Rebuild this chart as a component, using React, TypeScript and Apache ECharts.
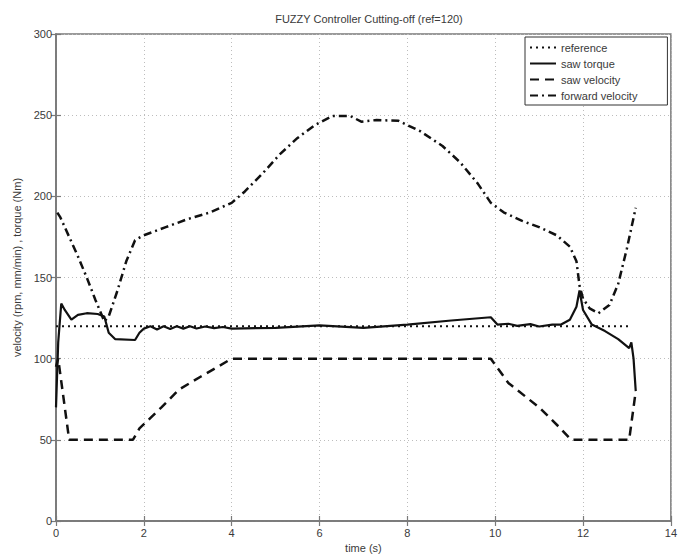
import React, { useEffect, useRef } from "react";
import * as echarts from "echarts";

const titleText = "FUZZY Controller Cutting-off (ref=120)";
const xTitle = "time (s)";
const yTitle = "velocity (rpm, mm/min) , torque (Nm)";
const seriesNames = ["reference", "saw torque", "saw velocity", "forward velocity"];

const referenceData: [number, number][] = [
  [0, 120],
  [13.1, 120],
];

const sawTorque: [number, number][] = [
  [0, 70], [0.05, 110], [0.12, 134], [0.2, 130], [0.35, 124], [0.5, 127],
  [0.7, 128], [0.95, 127.5], [1.1, 126], [1.2, 116], [1.35, 112], [1.8, 111.5],
  [1.9, 116], [2.0, 118.5], [2.15, 120], [2.3, 118], [2.45, 120], [2.6, 118.3],
  [2.75, 120], [2.9, 118.5], [3.05, 120], [3.2, 118.6], [3.4, 119.8], [3.6, 118.8],
  [3.8, 119.5], [4.0, 118.5], [5.0, 119], [6.0, 120.5], [7.0, 119], [8.0, 121],
  [9.0, 123.5], [9.9, 125.5], [10.05, 121], [10.3, 121.5], [10.5, 120.2],
  [10.8, 121.3], [11.0, 119.8], [11.3, 121], [11.5, 121], [11.7, 124],
  [11.85, 132], [11.92, 142], [12.0, 130], [12.2, 121], [12.5, 117], [12.8, 112],
  [13.05, 106.5], [13.1, 110], [13.15, 100], [13.2, 80],
];

const sawVelocity: [number, number][] = [
  [0, 95], [0.05, 100], [0.3, 50], [1.75, 50], [1.9, 57], [2.4, 70], [2.8, 81],
  [3.3, 89], [4.0, 100], [9.9, 100], [10.3, 85], [11.0, 70], [11.45, 58],
  [11.73, 50], [13.05, 50], [13.1, 60], [13.2, 80],
];

const forwardVelocity: [number, number][] = [
  [0.03, 190], [0.1, 187], [0.3, 175], [0.5, 163], [0.7, 150], [0.9, 136],
  [1.1, 123], [1.2, 126], [1.4, 142], [1.6, 160], [1.8, 173], [2.0, 176],
  [2.5, 181], [3.0, 186], [3.5, 190], [4.0, 196], [4.3, 203], [4.7, 214],
  [5.1, 226], [5.5, 236], [5.9, 244], [6.3, 249.5], [6.7, 249.5], [6.95, 246],
  [7.3, 247], [7.8, 246.5], [8.3, 240], [8.8, 231], [9.2, 221], [9.6, 208],
  [9.9, 196], [10.2, 190], [10.6, 185], [11.0, 181], [11.4, 176], [11.7, 169],
  [11.85, 160], [11.92, 145], [12.0, 137], [12.15, 131], [12.35, 128],
  [12.6, 133], [12.8, 146], [13.0, 168], [13.2, 193],
];

const FONT = "Liberation Sans, Arial, sans-serif";
const TXT = "#3a3a3a";

export default function App() {
  const ref = useRef<HTMLDivElement>(null);
  useEffect(() => {
    if (!ref.current) return;
    const chart = echarts.init(ref.current, null, { renderer: "svg" });
    const gridLine = { show: true, lineStyle: { color: "#bdbdbd", type: [1, 3] as any, width: 1 } };
    const axisLine = { show: true, lineStyle: { color: "#7a7a7a", width: 1.5 } };
    const tick = { show: true, inside: true, length: 5, lineStyle: { color: "#7a7a7a", width: 1.2 } };
    chart.setOption({
      animation: false,
      backgroundColor: "#fff",
      title: {
        text: titleText,
        left: 364,
        textAlign: "center",
        top: 8,
        textStyle: { fontFamily: FONT, fontSize: 11, fontWeight: "normal", color: TXT },
      },
      legend: {
        orient: "vertical",
        left: 525,
        top: 37,
        width: 142,
        padding: [5, 30, 4, 4],
        itemGap: 5,
        itemWidth: 26,
        itemHeight: 12,
        borderColor: "#333",
        borderWidth: 1,
        backgroundColor: "#fff",
        itemStyle: { opacity: 0 },
        data: seriesNames,
        textStyle: { fontFamily: FONT, fontSize: 11, color: TXT },
      },
      grid: { left: 56, right: 8, top: 34, bottom: 38, show: true, borderColor: "#7a7a7a", borderWidth: 1.5 },
      xAxis: [
        {
          type: "value", min: 0, max: 14, interval: 2,
          name: xTitle, nameLocation: "middle", nameGap: 20,
          nameTextStyle: { fontFamily: FONT, fontSize: 11, color: TXT },
          axisLine, axisTick: tick, splitLine: gridLine,
          axisLabel: { fontFamily: FONT, fontSize: 11, color: TXT, margin: 6 },
        },
        {
          type: "value", min: 0, max: 14, interval: 2, position: "top",
          axisLine, axisTick: tick, splitLine: { show: false }, axisLabel: { show: false },
        },
      ],
      yAxis: [
        {
          type: "value", min: 0, max: 300, interval: 50,
          name: yTitle, nameLocation: "middle", nameGap: 33,
          nameTextStyle: { fontFamily: FONT, fontSize: 11, color: TXT, padding: [0, 0, 0, 20] },
          axisLine, axisTick: tick, splitLine: gridLine,
          axisLabel: { fontFamily: FONT, fontSize: 11, color: TXT, margin: 4 },
        },
        {
          type: "value", min: 0, max: 300, interval: 50, position: "right",
          axisLine, axisTick: tick, splitLine: { show: false }, axisLabel: { show: false },
        },
      ],
      series: [
        {
          name: seriesNames[0], type: "line", data: referenceData, symbol: "none",
          lineStyle: { color: "#111", width: 2, type: [2, 4] as any },
          itemStyle: { color: "#111" },
        },
        {
          name: seriesNames[1], type: "line", data: sawTorque, symbol: "none",
          lineStyle: { color: "#111", width: 2.2, type: "solid" },
          itemStyle: { color: "#111" },
        },
        {
          name: seriesNames[2], type: "line", data: sawVelocity, symbol: "none",
          lineStyle: { color: "#111", width: 2.5, type: [9, 6] as any },
          itemStyle: { color: "#111" },
        },
        {
          name: seriesNames[3], type: "line", data: forwardVelocity, symbol: "none",
          lineStyle: { color: "#111", width: 2.5, type: [8, 4, 2, 4] as any },
          itemStyle: { color: "#111" },
        },
      ],
    });
    return () => chart.dispose();
  }, []);
  return <div ref={ref} style={{ width: 680, height: 559, position: "absolute", left: 0, top: 0 }} />;
}
